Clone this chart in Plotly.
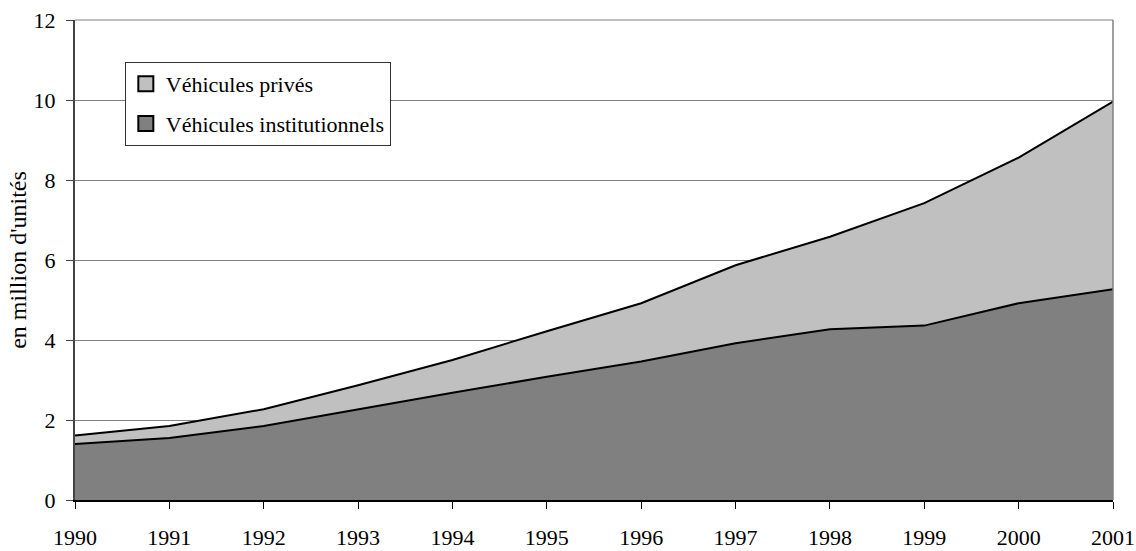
import plotly.graph_objects as go

years = [1990, 1991, 1992, 1993, 1994, 1995, 1996, 1997, 1998, 1999, 2000, 2001]
institutionnels = [1.40, 1.55, 1.85, 2.27, 2.68, 3.08, 3.46, 3.92, 4.27, 4.36, 4.92, 5.27]
total = [1.61, 1.85, 2.27, 2.87, 3.50, 4.22, 4.92, 5.87, 6.58, 7.42, 8.56, 9.96]
prives = [round(t - i, 2) for t, i in zip(total, institutionnels)]

name_inst = "Véhicules institutionnels"
name_priv = "Véhicules privés"
y_title = "en million d'unités"

FONT = "Liberation Serif, Times New Roman, serif"
C_INST = "#808080"
C_PRIV = "#C0C0C0"

fig = go.Figure()
fig.add_trace(go.Scatter(
    x=years, y=institutionnels, name=name_inst, stackgroup="s", mode="lines",
    line=dict(color="black", width=2), fillcolor=C_INST, showlegend=False,
))
fig.add_trace(go.Scatter(
    x=years, y=prives, name=name_priv, stackgroup="s", mode="lines",
    line=dict(color="black", width=2), fillcolor=C_PRIV, showlegend=False,
))
# legend entries (square swatches)
fig.add_trace(go.Scatter(
    x=[None], y=[None], mode="markers", name=name_priv, legendgroup="a",
    marker=dict(symbol="square", size=15, color=C_PRIV, line=dict(color="black", width=2)),
))
fig.add_trace(go.Scatter(
    x=[None], y=[None], mode="markers", name=name_inst, legendgroup="b",
    marker=dict(symbol="square", size=15, color=C_INST, line=dict(color="black", width=2)),
))

fig.update_layout(
    width=1136, height=551,
    margin=dict(l=75, r=23, t=20, b=51, autoexpand=False),
    paper_bgcolor="white", plot_bgcolor="white",
    font=dict(family=FONT, size=22, color="black"),
    showlegend=True,
    legend=dict(
        x=0.048, y=0.9125, xanchor="left", yanchor="top",
        bgcolor="white", bordercolor="#333333", borderwidth=1,
        traceorder="grouped", tracegroupgap=8, font=dict(family=FONT, size=22),
        itemwidth=30,
    ),
    xaxis=dict(
        range=[1990, 2001], tickmode="array", tickvals=years,
        ticktext=[str(y) for y in years],
        ticks="outside", ticklen=7, tickcolor="black", tickwidth=1,
        ticklabelstandoff=10,
        showline=True, linecolor="black", linewidth=2,
        showgrid=False, zeroline=False, automargin=False,
    ),
    yaxis=dict(
        range=[0, 12], tickvals=[0, 2, 4, 6, 8, 10, 12],
        ticks="outside", ticklen=7, tickcolor="#444444", tickwidth=1,
        ticklabelstandoff=6,
        showline=True, linecolor="#444444", linewidth=2,
        showgrid=True, gridcolor="#808080", gridwidth=1,
        zeroline=False, automargin=False,
        title=dict(text=y_title, font=dict(family=FONT, size=24), standoff=0),
    ),
)

# grey border of plot area (top and right)
fig.add_shape(type="line", xref="paper", yref="paper", x0=1, x1=1, y0=0, y1=1,
              line=dict(color="#808080", width=1.5), layer="above")
fig.add_shape(type="line", xref="paper", yref="paper", x0=0, x1=1, y0=1, y1=1,
              line=dict(color="#808080", width=1), layer="below")

fig.write_html("out.html", config={"displayModeBar": False},
               post_script="document.body.style.margin='0';")
